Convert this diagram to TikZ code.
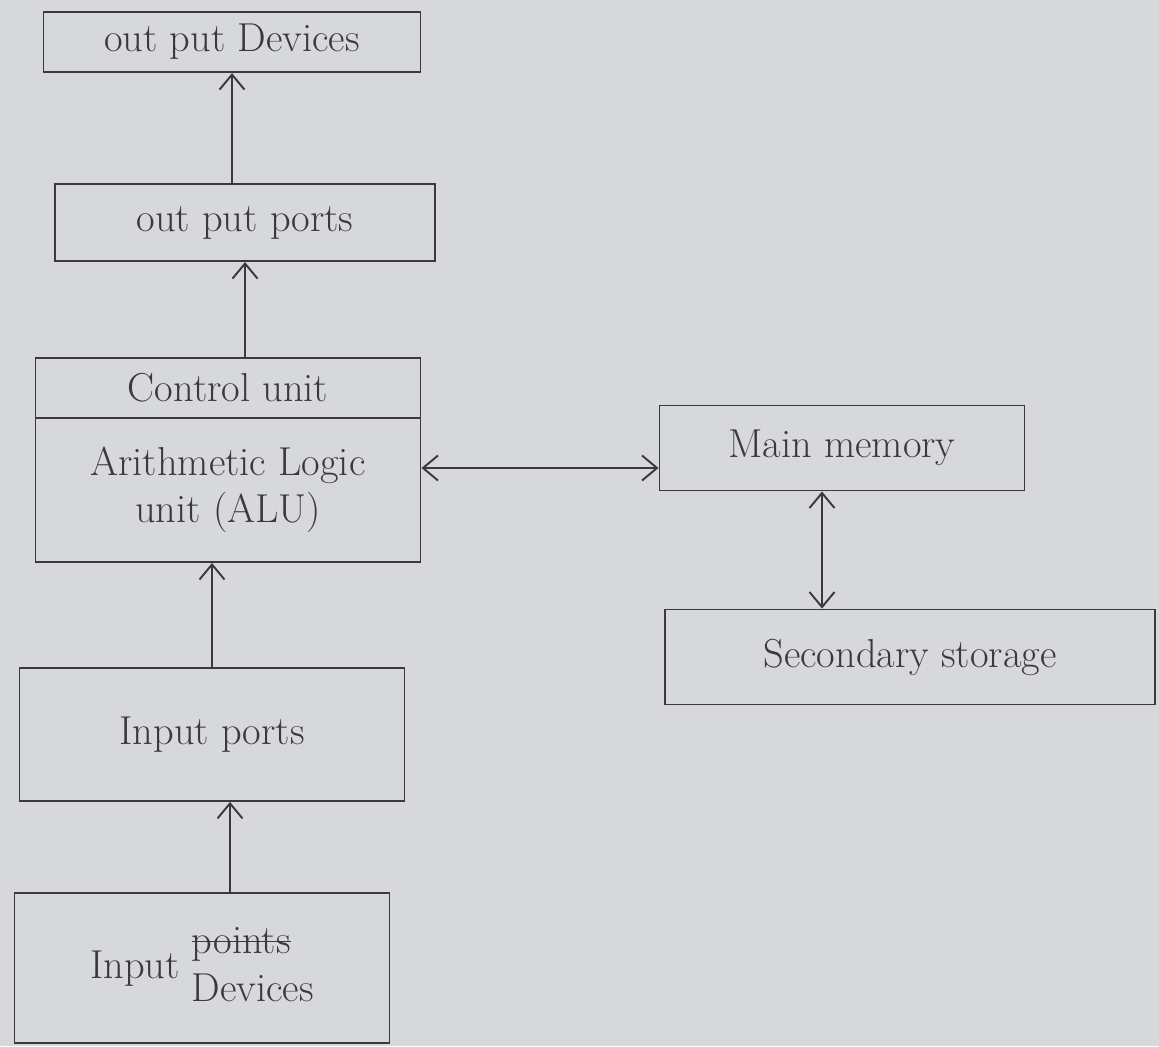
\documentclass[tikz,border=0pt]{standalone}
\usetikzlibrary{positioning,arrows.meta}
\definecolor{paper}{HTML}{D6D8DA}
\definecolor{pen}{HTML}{3A3A3C}
\newcommand{\crossword}[1]{\setbox0\hbox{#1}\rlap{\rule[0.28em]{\wd0}{1pt}}\box0}
\tikzset{
  unitbox/.style = {draw=pen, line width=1.1pt, text=pen,
    font=\fontsize{23}{27}\selectfont, align=center,
    inner sep=2pt},
  flow/.style = {draw=pen, line width=1.1pt,
    -{Straight Barb[length=3mm,width=5mm]}},
  twoway/.style = {draw=pen, line width=1.1pt,
    {Straight Barb[length=3mm,width=5mm]}-{Straight Barb[length=3mm,width=5mm]}}
}
\begin{document}
\begin{tikzpicture}[x=0.2mm, y=-0.2mm, node distance=19mm]
  \fill[paper] (0,0) rectangle (1159,1046);
  \useasboundingbox (0,0) rectangle (1159,1046);

  % processor: control unit over ALU
  \node[unitbox, minimum width=77mm, minimum height=12mm] (cu) at (228,388) {Control unit};
  \node[unitbox, minimum width=77mm, minimum height=28.8mm, below=-1.1pt of cu] (alu) {Arithmetic Logic\\unit (ALU)};

  % output side
  \node[unitbox, minimum width=76mm, minimum height=15.4mm, above=19mm of cu, xshift=3.4mm] (outport) {out put ports};
  \node[unitbox, minimum width=75.4mm, minimum height=12mm, above=22mm of outport, xshift=-2.6mm] (outdev) {out put Devices};

  % input side
  \node[unitbox, minimum width=77mm, minimum height=26.6mm, below=20.8mm of alu, xshift=-3.2mm] (inport) {Input ports};
  \node[unitbox, minimum width=75mm, minimum height=30mm, below=18mm of inport, xshift=-2mm] (indev)
    {Input \begin{tabular}[c]{@{}l@{}}\crossword{points}\\Devices\end{tabular}};

  % memory
  \node[unitbox, minimum width=73mm, minimum height=17mm] (mainmem) at (842,448) {Main memory};
  \node[unitbox, minimum width=98mm, minimum height=19mm] (secstore) at (910,657) {Secondary storage};

  % connectors
  \draw[flow] ([xshift=3.6mm]inport.south |- indev.north) -- ([xshift=3.6mm]inport.south);
  \draw[flow] (inport.north) -- (inport.north |- alu.south);
  \draw[flow] (outport.south |- cu.north) -- (outport.south);
  \draw[flow] (outdev.south |- outport.north) -- (outdev.south);
  \draw[twoway] ([yshift=-4mm]mainmem.west -| alu.east) -- ([yshift=-4mm]mainmem.west);
  \draw[twoway] (mainmem.south) ++(-20,0) coordinate (mm) -- (mm |- secstore.north);
\end{tikzpicture}
\end{document}
